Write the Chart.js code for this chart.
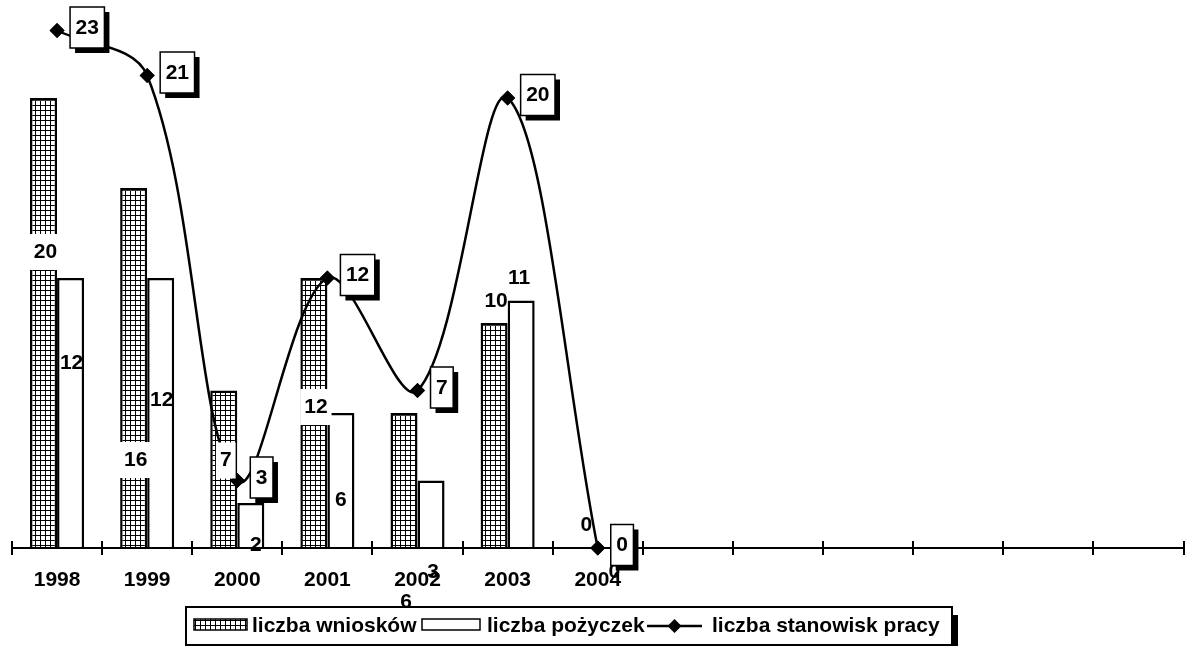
<!DOCTYPE html>
<html>
<head>
<meta charset="utf-8">
<script src="https://cdn.jsdelivr.net/npm/chart.js@4.4.1/dist/chart.umd.min.js"></script>
<style>
  html,body{margin:0;padding:0;background:#fff}
  #wrap{width:1191px;height:646px;position:relative}
</style>
</head>
<body>
<div id="wrap"><canvas id="chart"></canvas></div>
<script>
const years = ['1998','1999','2000','2001','2002','2003','2004','','','','','',''];
const wnioski = [20,16,7,12,6,10,0];
const pozyczki = [12,12,2,6,3,11,0];
const stanowiska = [23,21,3,12,7,20,0];
const seriesNames = ['liczba wniosków','liczba pożyczek','liczba stanowisk pracy'];
const yMax = 24;

// where excel left the bar labels, px from the bar top
const wnLabelDy = [154, 272, 70, 129, 189, -22, -23];
const pzLabelDy = [85, 122, 42, 87, 92, -22, 24];
const pzLabelDx = [1, 1, 5, 0, 2, -2, 3];

(function(){
  const FONT = 'bold 21px "Liberation Sans", Arial, sans-serif';

  const makeHatch = ()=>{
    const c = document.createElement('canvas');
    c.width = 5; c.height = 5;
    const g = c.getContext('2d');
    g.fillStyle = '#fff'; g.fillRect(0,0,5,5);
    g.fillStyle = '#000'; g.fillRect(0,0,5,1); g.fillRect(0,0,1,5);
    return g.createPattern(c, 'repeat');
  };
  const hatch = makeHatch();

  const shadowBox = (ctx, x, y, w, h, off)=>{
    ctx.fillStyle = '#000';
    ctx.fillRect(x + off, y + off, w, h);
    ctx.fillStyle = '#fff';
    ctx.fillRect(x, y, w, h);
    ctx.lineWidth = 1.5;
    ctx.strokeStyle = '#000';
    ctx.strokeRect(x, y, w, h);
  };

  const diamond = (ctx, x, y, r)=>{
    ctx.beginPath();
    ctx.moveTo(x, y - r); ctx.lineTo(x + r, y); ctx.lineTo(x, y + r); ctx.lineTo(x - r, y);
    ctx.closePath();
    ctx.fillStyle = '#000';
    ctx.fill();
  };

  const decor = {
    id: 'decor',
    afterDatasetsDraw(chart){
      const ctx = chart.ctx;
      const area = chart.chartArea;
      const xs = chart.scales.x, ys = chart.scales.y;
      const y0 = ys.getPixelForValue(0);
      const n = years.length;
      const step = (area.right - area.left) / n;
      ctx.save();

      // axis with crossing ticks
      ctx.strokeStyle = '#000';
      ctx.lineWidth = 2;
      ctx.beginPath();
      ctx.moveTo(area.left, y0); ctx.lineTo(area.right, y0);
      for (let i = 0; i <= n; i++){
        const tx = Math.round(area.left + i * step);
        ctx.moveTo(tx, y0 - 7); ctx.lineTo(tx, y0 + 7);
      }
      ctx.stroke();

      // points again so the axis does not cut them
      const m2 = chart.getDatasetMeta(2);
      m2.data.forEach(pt => diamond(ctx, pt.x, pt.y, 7.5));

      ctx.font = FONT;
      ctx.textAlign = 'center';
      ctx.textBaseline = 'middle';
      ctx.fillStyle = '#000';

      // wnioski labels, white background when sitting on the bar
      const m0 = chart.getDatasetMeta(0);
      wnioski.forEach((v, i)=>{
        const bar = m0.data[i];
        if (!bar) return;
        const t = String(v);
        const tw = ctx.measureText(t).width;
        const cx = bar.x + 2, cy = bar.y + wnLabelDy[i];
        if (wnLabelDy[i] > 0){
          ctx.fillStyle = '#fff';
          ctx.fillRect(cx - tw/2 - 4, cy - 18, tw + 8, 36);
        }
        ctx.fillStyle = '#000';
        ctx.fillText(t, cx, cy);
      });

      // pozyczki labels
      const m1 = chart.getDatasetMeta(1);
      pozyczki.forEach((v, i)=>{
        const bar = m1.data[i];
        if (!bar) return;
        ctx.fillText(String(v), bar.x + pzLabelDx[i], bar.y + pzLabelDy[i]);
      });

      // stanowiska labels in shadowed boxes
      stanowiska.forEach((v, i)=>{
        const pt = m2.data[i];
        if (!pt) return;
        const t = String(v);
        const w = ctx.measureText(t).width + 11;
        const bx = pt.x + 13, by = pt.y - 3 - 20.5;
        shadowBox(ctx, bx, by, w, 41, 5);
        ctx.fillStyle = '#000';
        ctx.fillText(t, bx + w/2, by + 21);
      });

      // category labels
      ctx.fillStyle = '#000';
      years.forEach((y, i)=>{
        if (!y) return;
        ctx.fillText(y, xs.getPixelForValue(i), y0 + 32);
      });

      // legend
      const L = { x: 186, y: 607, w: 766, h: 38 };
      ctx.fillStyle = '#000';
      ctx.fillRect(L.x + L.w, L.y + 8, 6, L.h);
      ctx.fillStyle = '#fff';
      ctx.fillRect(L.x, L.y, L.w, L.h);
      ctx.lineWidth = 2;
      ctx.strokeStyle = '#000';
      ctx.strokeRect(L.x, L.y, L.w, L.h);
      const ly = L.y + 19;

      ctx.fillStyle = hatch;
      ctx.fillRect(194, ly - 7, 53, 11);
      ctx.lineWidth = 1.5;
      ctx.strokeRect(194, ly - 7, 53, 11);
      ctx.fillStyle = '#fff';
      ctx.fillRect(422, ly - 7, 58, 11);
      ctx.strokeRect(422, ly - 7, 58, 11);
      ctx.lineWidth = 2.5;
      ctx.beginPath();
      ctx.moveTo(647, ly); ctx.lineTo(702, ly);
      ctx.stroke();
      diamond(ctx, 674.5, ly, 7);

      ctx.fillStyle = '#000';
      ctx.textAlign = 'left';
      ctx.fillText(seriesNames[0], 252, ly);
      ctx.fillText(seriesNames[1], 487, ly);
      ctx.fillText(seriesNames[2], 712, ly);

      ctx.restore();
    }
  };

  const el = document.getElementById('chart');
  new Chart(el, {
    data: {
      labels: years,
      datasets: [
        {
          type: 'bar',
          label: seriesNames[0],
          data: wnioski,
          backgroundColor: hatch,
          borderColor: '#000',
          borderWidth: 2.5,
          categoryPercentage: 0.6,
          barPercentage: 1,
          order: 1
        },
        {
          type: 'bar',
          label: seriesNames[1],
          data: pozyczki,
          backgroundColor: '#fff',
          borderColor: '#000',
          borderWidth: 2.5,
          categoryPercentage: 0.6,
          barPercentage: 1,
          order: 1
        },
        {
          type: 'line',
          label: seriesNames[2],
          data: stanowiska,
          borderColor: '#000',
          borderWidth: 2.5,
          tension: 0.35,
          fill: false,
          clip: false,
          pointStyle: 'rectRot',
          pointRadius: 7.5,
          pointBackgroundColor: '#000',
          pointBorderColor: '#000',
          pointBorderWidth: 0,
          order: 0
        }
      ]
    },
    options: {
      responsive: true,
      maintainAspectRatio: false,
      animation: false,
      layout: { padding: { left: 12, right: 2, top: 8, bottom: 98 } },
      plugins: { legend: { display: false }, tooltip: { enabled: false } },
      scales: {
        x: { display: false, offset: true },
        y: { display: false, min: 0, max: yMax }
      }
    },
    plugins: [decor]
  });
})();
</script>
</body>
</html>
